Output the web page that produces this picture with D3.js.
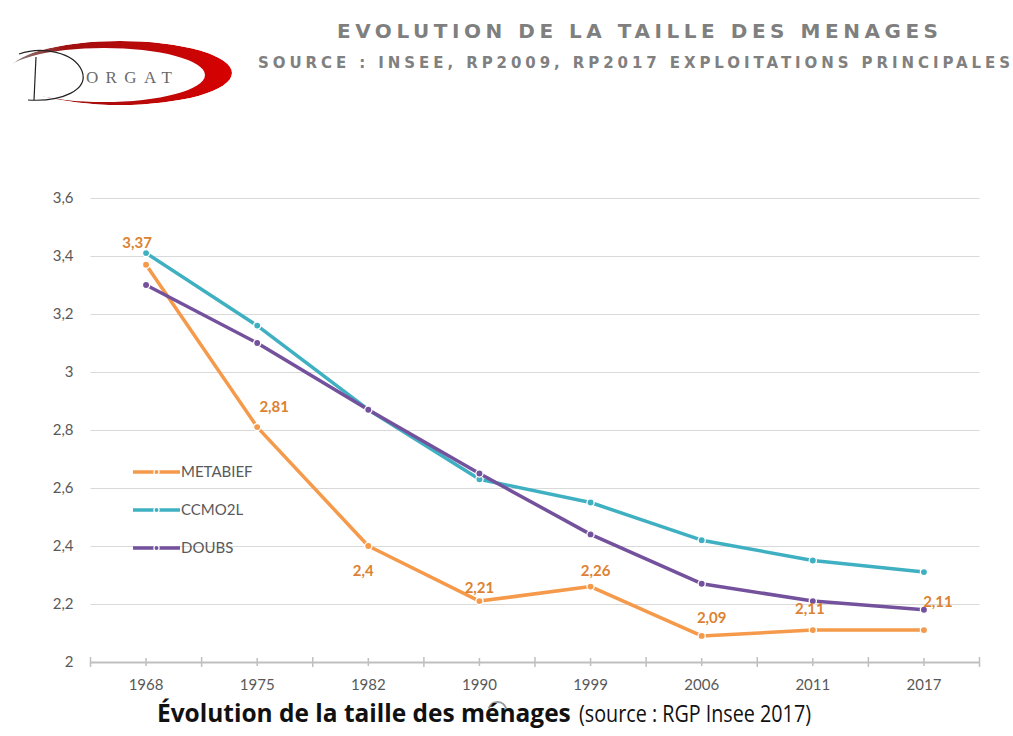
<!DOCTYPE html>
<html>
<head>
<meta charset="utf-8">
<script src="https://cdn.jsdelivr.net/npm/d3@7"></script>
<style>
  body { margin: 0; background: #fff; }
  svg { display: block; }
</style>
</head>
<body>
<div id="chart"></div>
<script>
// data
var years = ['1968', '1975', '1982', '1990', '1999', '2006', '2011', '2017'];
var metabief = [3.37, 2.81, 2.4, 2.21, 2.26, 2.09, 2.11, 2.11];
var ccmo2l = [3.41, 3.16, 2.87, 2.63, 2.55, 2.42, 2.35, 2.31];
var doubs = [3.30, 3.10, 2.87, 2.65, 2.44, 2.27, 2.21, 2.18];
var yTicks = [2, 2.2, 2.4, 2.6, 2.8, 3, 3.2, 3.4, 3.6];
var seriesNames = ['METABIEF', 'CCMO2L', 'DOUBS'];

var colors = ['#f5994a', '#3fb0c2', '#74519c'];
// where each METABIEF value label sits relative to its point
var labelShift = [[-9, -17], [17, -15], [-5, 30], [0, -8], [5, -11], [10, -13], [-3, -16], [14, -23]];

var W = 1013, H = 736;
var svg = d3.select('#chart').append('svg')
  .attr('width', W)
  .attr('height', H)
  .attr('font-family', 'Lato, sans-serif');

var x = d3.scaleBand().domain(years).range([90.5, 979.5]).padding(0);
var y = d3.scaleLinear().domain([2, 3.6]).range([662, 198]);
var cx = function(d) { return x(d) + x.bandwidth() / 2; };
var fmt = function(v) { return String(v).replace('.', ','); };

///////////////////////////////////////////////////////////
// logo
var defs = svg.append('defs');
var grad = defs.append('linearGradient').attr('id', 'swoosh')
  .attr('x1', '0%').attr('x2', '100%').attr('y1', '0%').attr('y2', '0%');
grad.append('stop').attr('offset', '0%').attr('stop-color', '#555').attr('stop-opacity', 0.7);
grad.append('stop').attr('offset', '25%').attr('stop-color', '#a01010');
grad.append('stop').attr('offset', '100%').attr('stop-color', '#d80000');
var mask = defs.append('mask').attr('id', 'crescent');
mask.append('ellipse').attr('cx', 120).attr('cy', 73).attr('rx', 112).attr('ry', 32).attr('fill', '#fff');
mask.append('ellipse').attr('cx', 104).attr('cy', 75).attr('rx', 101).attr('ry', 27).attr('fill', '#000');

svg.append('ellipse')
  .attr('cx', 120).attr('cy', 73).attr('rx', 112).attr('ry', 32)
  .attr('fill', 'url(#swoosh)')
  .attr('mask', 'url(#crescent)');

svg.append('path')
  .attr('d', 'M19,54 C42,46 74,52 82,71 C89,90 62,102 28,100')
  .attr('fill', 'none').attr('stroke', '#222').attr('stroke-width', 1.2);
svg.append('path')
  .attr('d', 'M36,57 L34,100')
  .attr('fill', 'none').attr('stroke', '#222').attr('stroke-width', 1.2);
svg.append('text')
  .attr('x', 86).attr('y', 83)
  .attr('textLength', 86).attr('lengthAdjust', 'spacing')
  .attr('font-family', '"Liberation Serif", "DejaVu Serif", serif')
  .attr('font-size', 17)
  .attr('fill', '#6a6a6a')
  .text('ORGAT');

// headings
svg.append('text')
  .attr('x', 337).attr('y', 38)
  .attr('textLength', 601).attr('lengthAdjust', 'spacing')
  .attr('font-family', '"DejaVu Sans", sans-serif')
  .attr('font-size', 20).attr('font-weight', 'bold')
  .attr('fill', '#7f7f7f')
  .text('EVOLUTION DE LA TAILLE DES MENAGES');
svg.append('text')
  .attr('x', 258).attr('y', 68)
  .attr('textLength', 752).attr('lengthAdjust', 'spacing')
  .attr('font-family', '"DejaVu Sans", sans-serif')
  .attr('font-size', 15).attr('font-weight', 'bold')
  .attr('fill', '#808080')
  .text('SOURCE : INSEE, RP2009, RP2017 EXPLOITATIONS PRINCIPALES');

///////////////////////////////////////////////////////////
// grid + y labels
var yAxis = d3.axisLeft(y)
  .tickValues(yTicks.slice(1))
  .tickSize(-(979.5 - 90.5))
  .tickFormat(fmt);
var gy = svg.append('g').attr('transform', 'translate(90.5,0)').call(yAxis)
  .attr('font-family', 'Lato, sans-serif').attr('font-size', 15);
gy.select('.domain').remove();
gy.selectAll('.tick line').attr('stroke', '#d9d9d9');
gy.selectAll('.tick text')
  .attr('x', -17)
  .attr('fill', '#595959');

svg.append('text')
  .attr('x', 73.5).attr('y', y(2)).attr('dy', '0.32em')
  .attr('text-anchor', 'end')
  .attr('fill', '#595959')
  .attr('font-size', 15)
  .text(fmt(yTicks[0]));

// x axis
var xAxis = d3.axisBottom(x).tickSize(0).tickPadding(17);
var gx = svg.append('g').attr('transform', 'translate(0,' + y(2) + ')').call(xAxis)
  .attr('font-family', 'Lato, sans-serif').attr('font-size', 15);
gx.select('.domain').attr('stroke', '#bfbfbf').attr('stroke-width', 2);
gx.selectAll('.tick text')
  .attr('fill', '#595959');

var bounds = years.map(function(d) { return x(d); }).concat([x.range()[1]]);
svg.append('g').selectAll('line.big')
  .data(bounds).enter().append('line')
  .attr('x1', function(d) { return d; }).attr('x2', function(d) { return d; })
  .attr('y1', y(2) - 5).attr('y2', y(2) + 5)
  .attr('stroke', '#bfbfbf').attr('stroke-width', 1.5);
svg.append('g').selectAll('line.small')
  .data(years).enter().append('line')
  .attr('x1', cx).attr('x2', cx)
  .attr('y1', y(2) - 4).attr('y2', y(2) + 4)
  .attr('stroke', '#bfbfbf').attr('stroke-width', 1.5);

///////////////////////////////////////////////////////////
// lines
var allSeries = [metabief, ccmo2l, doubs];
var line = d3.line()
  .x(function(d, i) { return cx(years[i]); })
  .y(function(d) { return y(d); });

allSeries.forEach(function(vals, s) {
  svg.append('path')
    .datum(vals)
    .attr('d', line)
    .attr('fill', 'none')
    .attr('stroke', colors[s])
    .attr('stroke-width', 3.5)
    .attr('stroke-linejoin', 'round');
  svg.append('g').selectAll('circle')
    .data(vals).enter().append('circle')
    .attr('cx', function(d, i) { return cx(years[i]); })
    .attr('cy', function(d) { return y(d); })
    .attr('r', 3.6)
    .attr('fill', colors[s])
    .attr('stroke', '#fff')
    .attr('stroke-width', 1.3);
});

// METABIEF labels
svg.append('g').selectAll('text')
  .data(metabief).enter().append('text')
  .attr('x', function(d, i) { return cx(years[i]) + labelShift[i][0]; })
  .attr('y', function(d, i) { return y(d) + labelShift[i][1]; })
  .attr('text-anchor', 'middle')
  .attr('fill', '#dc8232')
  .attr('font-size', 15)
  .attr('font-weight', 'bold')
  .text(fmt);

///////////////////////////////////////////////////////////
// legend
var leg = svg.append('g').selectAll('g')
  .data(seriesNames).enter().append('g')
  .attr('transform', function(d, i) { return 'translate(133,' + (472 + i * 38) + ')'; });
leg.append('line')
  .attr('x1', 0).attr('x2', 47)
  .attr('stroke', function(d, i) { return colors[i]; })
  .attr('stroke-width', 3.5);
leg.append('circle')
  .attr('cx', 23.5).attr('r', 2.6)
  .attr('fill', function(d, i) { return colors[i]; })
  .attr('stroke', '#fff').attr('stroke-width', 1.2);
leg.append('text')
  .attr('x', 48).attr('dy', '0.35em')
  .attr('fill', '#595959')
  .attr('font-size', 15)
  .text(function(d) { return d; });

// small stray circle under 1990
svg.append('path')
  .attr('d', d3.arc()({ innerRadius: 8, outerRadius: 10, startAngle: -1.3, endAngle: 1.3 }))
  .attr('transform', 'translate(' + (cx('1990') + 18) + ',711)')
  .attr('fill', '#9a9a9a');

// caption: bold part sized to its width, plain part same size squeezed to fit
var capBold = svg.append('text')
  .attr('x', 157).attr('y', 722)
  .attr('fill', '#111')
  .attr('font-family', '"Open Sans", sans-serif')
  .attr('font-size', 20)
  .attr('font-weight', 'bold')
  .text('Évolution de la taille des ménages');
var capSize = 20 * 414 / capBold.node().getComputedTextLength();
capBold.attr('font-size', capSize);
svg.append('text')
  .attr('x', 579).attr('y', 722)
  .attr('fill', '#111')
  .attr('font-family', '"Open Sans", sans-serif')
  .attr('font-size', capSize * 0.97)
  .attr('textLength', 232).attr('lengthAdjust', 'spacingAndGlyphs')
  .text('(source : RGP Insee 2017)');
</script>
</body>
</html>
